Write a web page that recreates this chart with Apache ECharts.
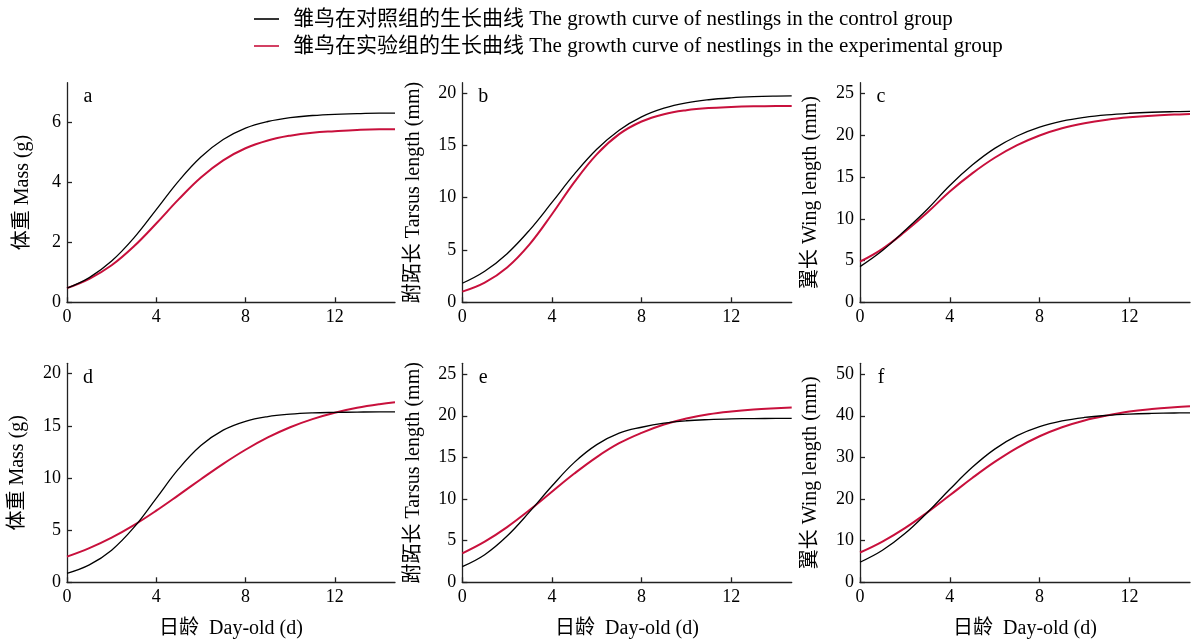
<!DOCTYPE html>
<html><head><meta charset="utf-8">
<script src="https://cdn.jsdelivr.net/npm/echarts@6/dist/echarts.min.js"></script>
<style>html,body{margin:0;padding:0;background:#fff}#c{width:1191px;height:641px}</style>
</head><body><div id="c"></div>
<script>
// ---- data ----
const days = [0,1,2,3,4,5,6,7,8,9,10,11,12,13,14,14.7];
const seriesNames = [
  '雏鸟在对照组的生长曲线 The growth curve of nestlings in the control group',
  '雏鸟在实验组的生长曲线 The growth curve of nestlings in the experimental group'
];
const panelLetters = ['a','b','c','d','e','f'];
const yNames = ['体重 Mass (g)','跗跖长 Tarsus length (mm)','翼长 Wing length (mm)','体重 Mass (g)','跗跖长 Tarsus length (mm)','翼长 Wing length (mm)'];
const xName = '日龄  Day-old (d)';
const xTicks = [0,4,8,12];
const yTicks = [[0,2,4,6],[0,5,10,15,20],[0,5,10,15,20,25],[0,5,10,15,20],[0,5,10,15,20,25],[0,10,20,30,40,50]];
const yMax = [7.3,21,26.3,21,26.3,52.6];
const xMax = 14.7;

// panel a: mass (top)
const massCtrlA = [0.47,0.82,1.37,2.14,3.08,4.03,4.83,5.41,5.79,6.01,6.14,6.21,6.25,6.27,6.29,6.29];
const massExpA  = [0.47,0.78,1.23,1.86,2.62,3.42,4.15,4.72,5.12,5.38,5.54,5.64,5.69,5.73,5.75,5.75];
// panel b: tarsus (top)
const tarsCtrlB = [1.82,2.97,4.65,6.90,9.55,12.25,14.63,16.46,17.73,18.56,19.07,19.37,19.55,19.66,19.72,19.74];
const tarsExpB  = [1.02,1.88,3.33,5.54,8.42,11.49,14.15,16.08,17.29,17.99,18.37,18.58,18.68,18.74,18.77,18.78];
// panel c: wing (top)
const wingCtrlC = [4.27,6.2,8.6,11.15,13.99,16.43,18.43,19.92,20.98,21.69,22.15,22.45,22.64,22.76,22.83,22.86];
const wingExpC  = [4.86,6.4,8.45,10.75,13.27,15.44,17.31,18.82,19.98,20.84,21.44,21.86,22.15,22.35,22.48,22.55];
// panel d: mass (bottom)
const massCtrlD = [0.86,1.67,3.08,5.26,8.05,10.87,13.11,14.59,15.44,15.89,16.12,16.24,16.29,16.32,16.34,16.34];
const massExpD  = [2.46,3.28,4.29,5.49,6.87,8.36,9.88,11.36,12.71,13.89,14.87,15.65,16.26,16.73,17.08,17.26];
// panel e: tarsus (bottom)
const tarsCtrlE = [1.88,3.31,5.55,8.45,11.56,14.40,16.53,17.91,18.62,19.12,19.40,19.54,19.62,19.66,19.68,19.69];
const tarsExpE  = [3.48,4.88,6.63,8.67,10.88,13.06,15.04,16.70,17.95,18.95,19.68,20.19,20.52,20.75,20.90,20.98];
// panel f: wing (bottom)
const wingCtrlF = [4.82,7.69,11.71,16.77,22.33,27.62,31.99,35.21,37.37,38.75,39.59,40.09,40.39,40.56,40.66,40.71];
const wingExpF  = [7.15,9.78,13.02,16.80,20.90,25.04,28.91,32.30,35.08,37.25,38.88,40.06,41.0,41.6,42.05,42.3];

const ctrlSets = [massCtrlA,tarsCtrlB,wingCtrlC,massCtrlD,tarsCtrlE,wingCtrlF];
const expSets  = [massExpA,tarsExpB,wingExpC,massExpD,tarsExpE,wingExpF];

// ---- layout ----
const FONT = "'Liberation Serif','Times New Roman','Noto Sans CJK SC',serif";
const colLeft = [67,462.3,860];
const colWidth = [328,329.4,330];
const rowTop = [82.7,363.3];
const rowHeight = [219.6,219];
const nameGaps = [34,39,39,39,39,39];
const RED = '#c8103c';
const AXIS = '#222';

const grids=[],xAxes=[],yAxes=[],series=[],graphics=[];
for(let i=0;i<6;i++){
  const r=Math.floor(i/3),c=i%3;
  grids.push({left:colLeft[c],top:rowTop[r],width:colWidth[c],height:rowHeight[r]});
  xAxes.push({
    type:'value',gridIndex:i,min:0,max:xMax,
    axisLine:{show:true,lineStyle:{color:AXIS,width:1.3}},
    axisTick:{show:true,inside:true,length:5,customValues:xTicks,lineStyle:{color:AXIS,width:1.3}},
    axisLabel:{customValues:xTicks,color:'#000',fontSize:18,fontFamily:FONT,margin:6},
    splitLine:{show:false},
    name:r===1?xName:'',nameLocation:'middle',nameGap:36,
    nameTextStyle:{color:'#000',fontSize:20,fontFamily:FONT}
  });
  yAxes.push({
    type:'value',gridIndex:i,min:0,max:yMax[i],
    axisLine:{show:true,lineStyle:{color:AXIS,width:1.3}},
    axisTick:{show:true,inside:true,length:5,customValues:yTicks[i],lineStyle:{color:AXIS,width:1.3}},
    axisLabel:{customValues:yTicks[i],color:'#000',fontSize:18,fontFamily:FONT,margin:6},
    splitLine:{show:false},
    name:yNames[i],nameLocation:'middle',nameGap:nameGaps[i],
    nameTextStyle:{color:'#000',fontSize:20,fontFamily:FONT}
  });
  series.push({
    name:seriesNames[0],type:'line',xAxisIndex:i,yAxisIndex:i,
    data:days.map((d,k)=>[d,ctrlSets[i][k]]),smooth:0.4,symbol:'none',
    lineStyle:{color:'#000',width:1.3},itemStyle:{color:'#000'},z:3
  });
  series.push({
    name:seriesNames[1],type:'line',xAxisIndex:i,yAxisIndex:i,
    data:days.map((d,k)=>[d,expSets[i][k]]),smooth:0.4,symbol:'none',
    lineStyle:{color:RED,width:2},itemStyle:{color:RED},z:2
  });
  graphics.push({
    type:'text',
    style:{text:panelLetters[i],x:colLeft[c]+21,y:rowTop[r]+14,font:'20px '+FONT,fill:'#000',align:'center',verticalAlign:'middle'}
  });
}

const chart = echarts.init(document.getElementById('c'),null,{renderer:'canvas'});
chart.setOption({
  animation:false,
  backgroundColor:'#fff',
  legend:{
    data:seriesNames,orient:'vertical',left:254,top:8,padding:0,
    icon:'rect',itemWidth:25,itemHeight:1.6,itemGap:5,
    selectedMode:false,
    textStyle:{fontSize:21,lineHeight:22,color:'#000',fontFamily:FONT,padding:[0,0,0,9]}
  },
  grid:grids,xAxis:xAxes,yAxis:yAxes,series:series,graphic:graphics
});
</script>
</body></html>
